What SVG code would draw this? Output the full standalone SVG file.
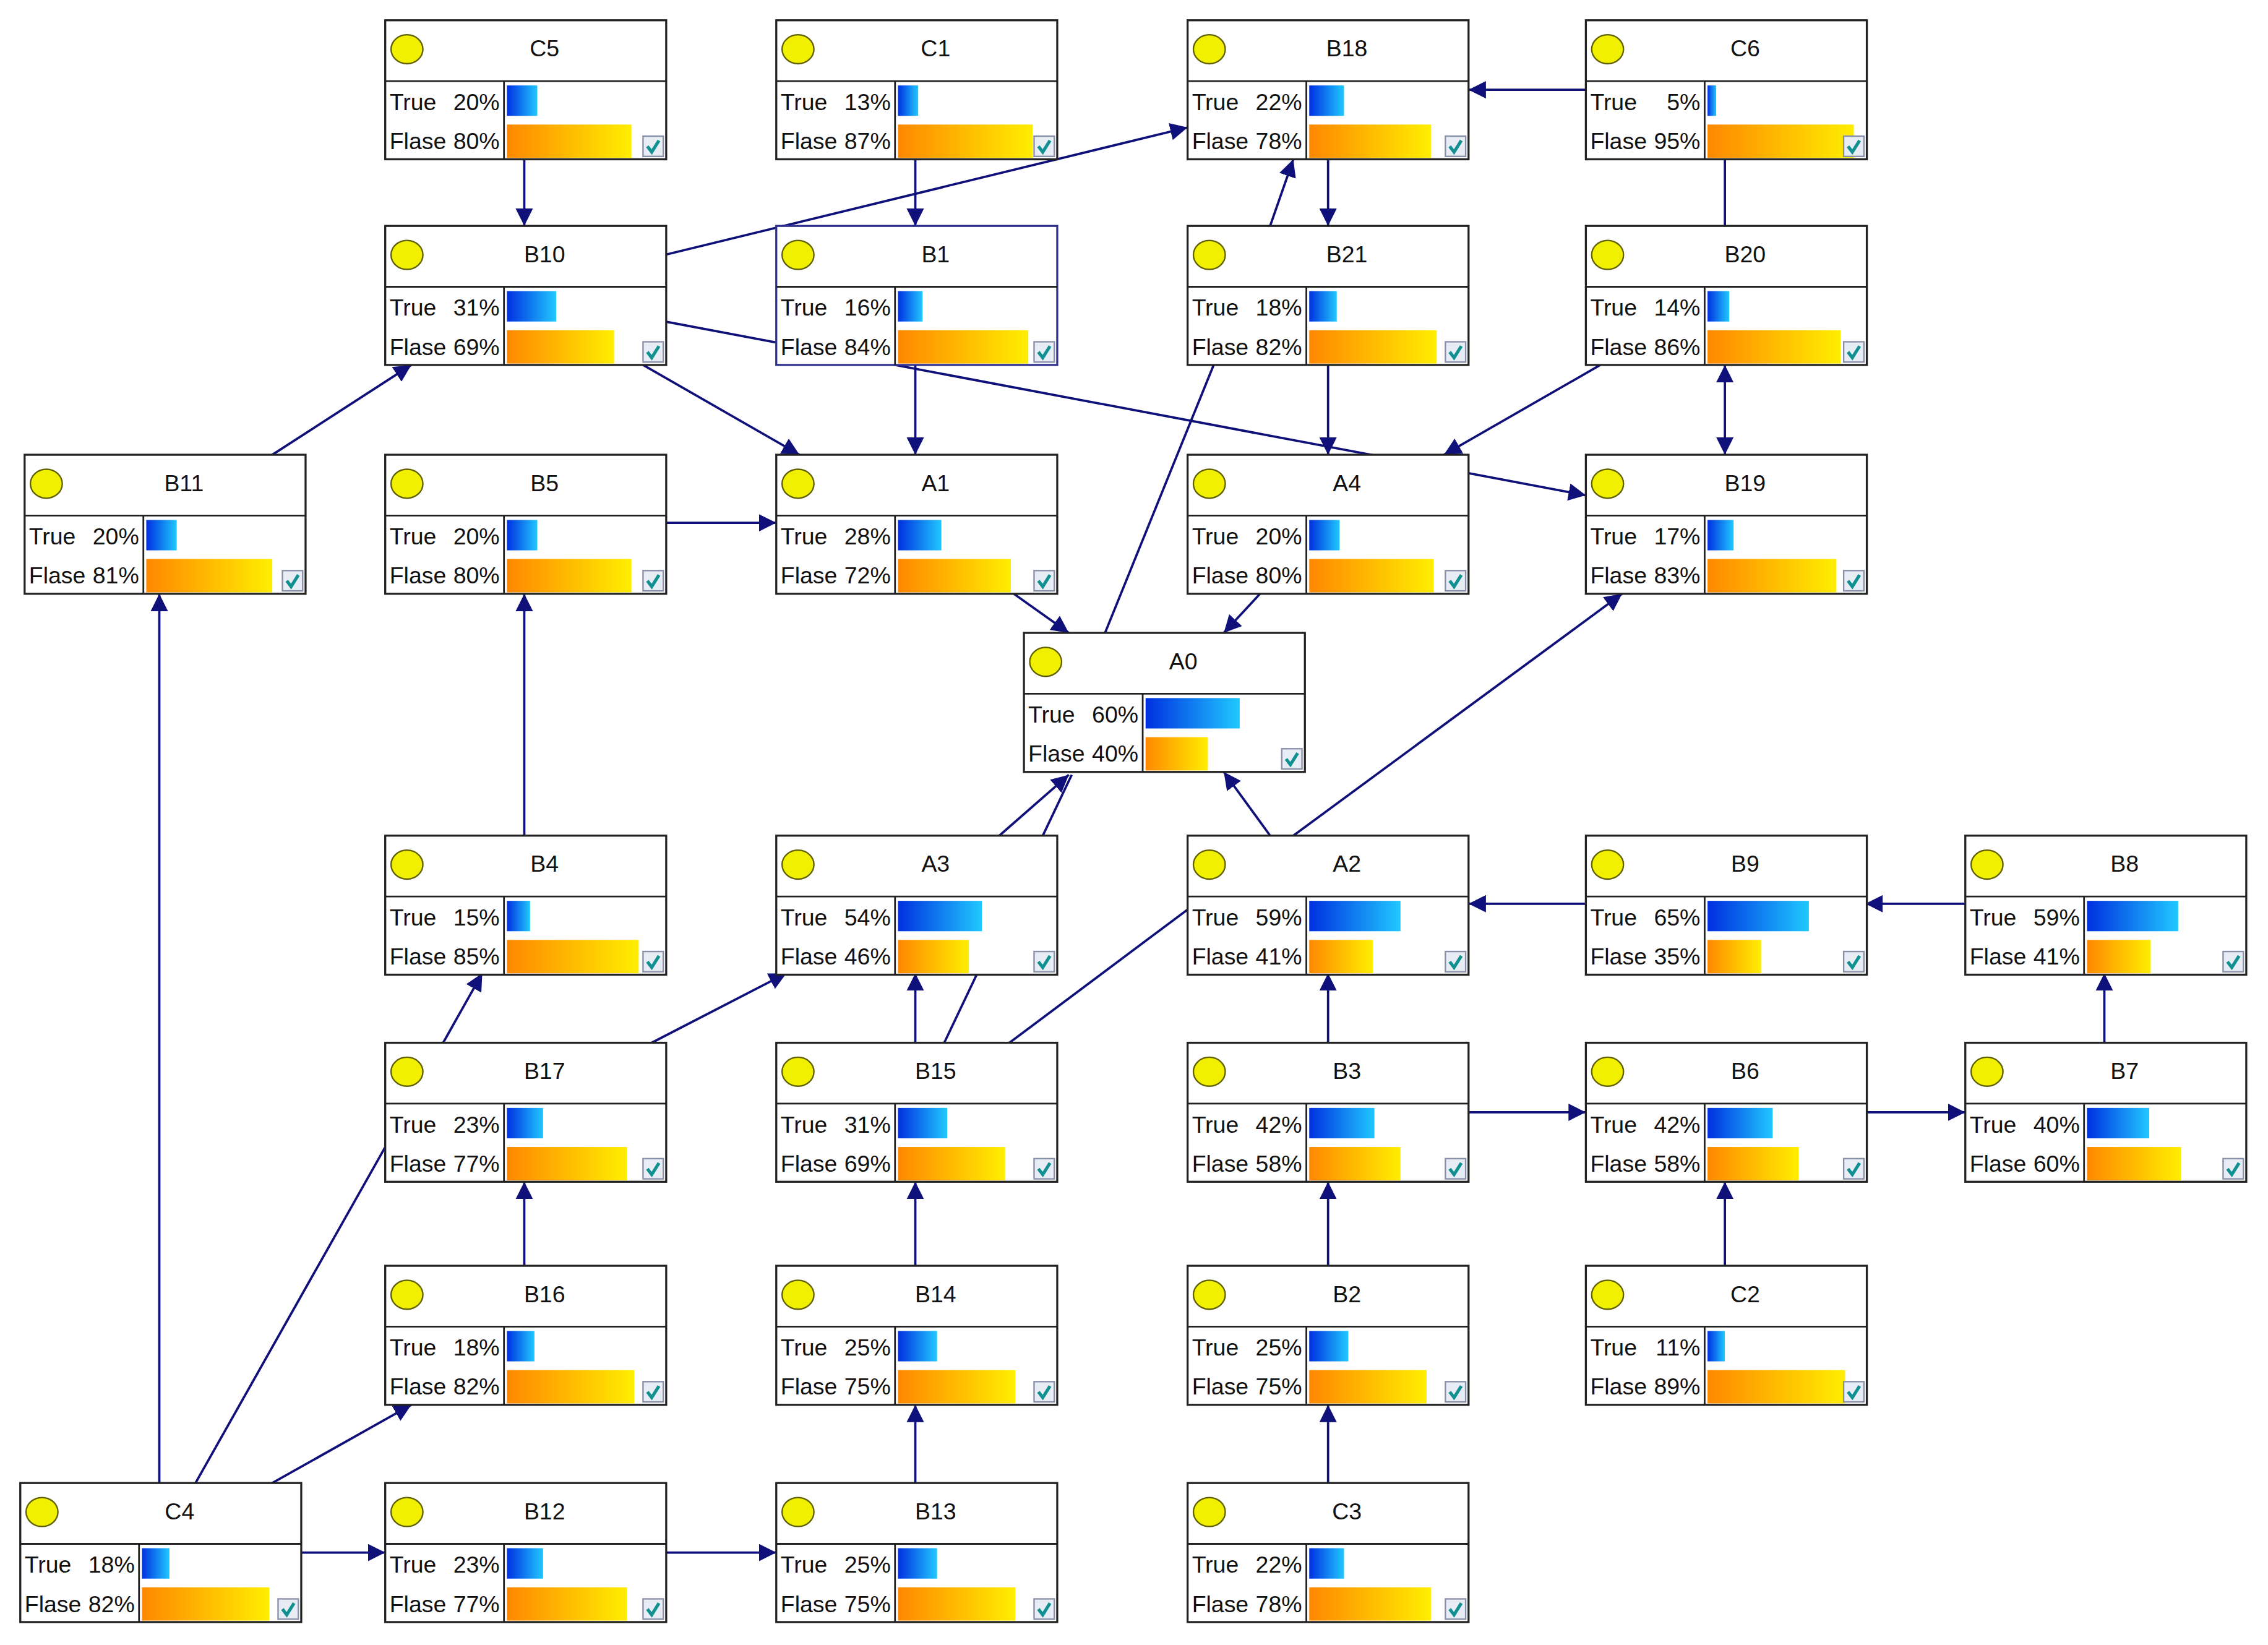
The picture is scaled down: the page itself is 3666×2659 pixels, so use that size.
<svg xmlns="http://www.w3.org/2000/svg" width="3666" height="2659" viewBox="0 0 3666 2659">
<style>
.box{fill:#fff;stroke:#222;stroke-width:1.4}
.ln{stroke:#222;stroke-width:1.2}
.t{font-family:"Liberation Sans",Arial,sans-serif;font-size:16px;fill:#111}
.h{font-family:"Liberation Sans",Arial,sans-serif;font-size:16px;fill:#111;text-anchor:middle}
.p{text-anchor:end}
.e{stroke:#10107a;stroke-width:1.6;fill:none}
.cb{fill:#e8ecf4;stroke:#8890a8;stroke-width:1}
.ck{stroke:#109090;stroke-width:2.2;fill:none}
</style>
<defs>
<linearGradient id="gb" x1="0" y1="0" x2="1" y2="0"><stop offset="0" stop-color="#0030e0"/><stop offset="1" stop-color="#20c8ff"/></linearGradient>
<linearGradient id="go" x1="0" y1="0" x2="1" y2="0"><stop offset="0" stop-color="#ff8800"/><stop offset="1" stop-color="#ffee00"/></linearGradient>
<marker id="a" viewBox="0 0 10 10" refX="10" refY="5" markerWidth="12" markerHeight="12" markerUnits="userSpaceOnUse" orient="auto-start-reverse"><path d="M0,0 L10,5 L0,10 z" fill="#10107a"/></marker>
</defs>
<g transform="scale(2.341)">
<g id="connectors">
<line class="e" x1="362" y1="110" x2="362" y2="156" marker-end="url(#a)"/>
<line class="e" x1="632" y1="110" x2="632" y2="156" marker-end="url(#a)"/>
<line class="e" x1="459" y1="176" x2="820" y2="88" marker-end="url(#a)"/>
<line class="e" x1="1095" y1="62" x2="1014" y2="62" marker-end="url(#a)"/>
<line class="e" x1="1191" y1="110" x2="1191" y2="156"/>
<line class="e" x1="917" y1="110" x2="917" y2="156" marker-end="url(#a)"/>
<line class="e" x1="877" y1="156" x2="893" y2="110" marker-end="url(#a)"/>
<line class="e" x1="444" y1="252" x2="552" y2="314" marker-end="url(#a)"/>
<line class="e" x1="459" y1="222" x2="1095" y2="342" marker-end="url(#a)"/>
<line class="e" x1="632" y1="252" x2="632" y2="314" marker-end="url(#a)"/>
<line class="e" x1="188" y1="314" x2="284" y2="252" marker-end="url(#a)"/>
<line class="e" x1="459" y1="361" x2="536" y2="361" marker-end="url(#a)"/>
<line class="e" x1="838" y1="252" x2="763" y2="437"/>
<line class="e" x1="1105" y1="252" x2="997" y2="314" marker-end="url(#a)"/>
<line class="e" x1="917" y1="252" x2="917" y2="314" marker-end="url(#a)"/>
<line class="e" x1="1191" y1="252" x2="1191" y2="314" marker-start="url(#a)" marker-end="url(#a)"/>
<line class="e" x1="700" y1="410" x2="738" y2="437" marker-end="url(#a)"/>
<line class="e" x1="870" y1="410" x2="845" y2="437" marker-end="url(#a)"/>
<line class="e" x1="893" y1="577" x2="1120" y2="410" marker-end="url(#a)"/>
<line class="e" x1="877" y1="577" x2="845" y2="533" marker-end="url(#a)"/>
<line class="e" x1="690" y1="577" x2="738" y2="535" marker-end="url(#a)"/>
<line class="e" x1="652" y1="720" x2="740" y2="535"/>
<line class="e" x1="1095" y1="624" x2="1014" y2="624" marker-end="url(#a)"/>
<line class="e" x1="1357" y1="624" x2="1288" y2="624" marker-end="url(#a)"/>
<line class="e" x1="362" y1="577" x2="362" y2="410" marker-end="url(#a)"/>
<line class="e" x1="306" y1="720" x2="333" y2="672" marker-end="url(#a)"/>
<line class="e" x1="450" y1="720" x2="543" y2="672" marker-end="url(#a)"/>
<line class="e" x1="632" y1="720" x2="632" y2="672" marker-end="url(#a)"/>
<line class="e" x1="697" y1="720" x2="820" y2="628"/>
<line class="e" x1="917" y1="720" x2="917" y2="672" marker-end="url(#a)"/>
<line class="e" x1="1014" y1="768" x2="1095" y2="768" marker-end="url(#a)"/>
<line class="e" x1="1288" y1="768" x2="1357" y2="768" marker-end="url(#a)"/>
<line class="e" x1="1453" y1="720" x2="1453" y2="672" marker-end="url(#a)"/>
<line class="e" x1="110" y1="1024" x2="110" y2="410" marker-end="url(#a)"/>
<line class="e" x1="135" y1="1024" x2="266" y2="792"/>
<line class="e" x1="362" y1="874" x2="362" y2="816" marker-end="url(#a)"/>
<line class="e" x1="632" y1="874" x2="632" y2="816" marker-end="url(#a)"/>
<line class="e" x1="917" y1="874" x2="917" y2="816" marker-end="url(#a)"/>
<line class="e" x1="1191" y1="874" x2="1191" y2="816" marker-end="url(#a)"/>
<line class="e" x1="188" y1="1024" x2="284" y2="970" marker-end="url(#a)"/>
<line class="e" x1="207" y1="1072" x2="266" y2="1072" marker-end="url(#a)"/>
<line class="e" x1="459" y1="1072" x2="536" y2="1072" marker-end="url(#a)"/>
<line class="e" x1="632" y1="1024" x2="632" y2="970" marker-end="url(#a)"/>
<line class="e" x1="917" y1="1024" x2="917" y2="970" marker-end="url(#a)"/>
</g>
<g id="C5" transform="translate(266,14)"><rect class="box" width="194" height="96"/><line class="ln" x1="0" y1="42" x2="194" y2="42"/><line class="ln" x1="82" y1="42" x2="82" y2="96"/><ellipse cx="15" cy="20" rx="11" ry="10" fill="#f0f000" stroke="#606000"/><text class="h" x="110" y="25">C5</text><text class="t" x="3" y="62">True</text><text class="t p" x="79" y="62">20%</text><text class="t" x="3" y="89">Flase</text><text class="t p" x="79" y="89">80%</text><rect x="84" y="45" width="21" height="21" fill="url(#gb)"/><rect x="84" y="72" width="86" height="23" fill="url(#go)"/><rect class="cb" x="178" y="80" width="14" height="14"/><path class="ck" d="M181,87 L184,91 L189,83"/></g>
<g id="C1" transform="translate(536,14)"><rect class="box" width="194" height="96"/><line class="ln" x1="0" y1="42" x2="194" y2="42"/><line class="ln" x1="82" y1="42" x2="82" y2="96"/><ellipse cx="15" cy="20" rx="11" ry="10" fill="#f0f000" stroke="#606000"/><text class="h" x="110" y="25">C1</text><text class="t" x="3" y="62">True</text><text class="t p" x="79" y="62">13%</text><text class="t" x="3" y="89">Flase</text><text class="t p" x="79" y="89">87%</text><rect x="84" y="45" width="14" height="21" fill="url(#gb)"/><rect x="84" y="72" width="93" height="23" fill="url(#go)"/><rect class="cb" x="178" y="80" width="14" height="14"/><path class="ck" d="M181,87 L184,91 L189,83"/></g>
<g id="B18" transform="translate(820,14)"><rect class="box" width="194" height="96"/><line class="ln" x1="0" y1="42" x2="194" y2="42"/><line class="ln" x1="82" y1="42" x2="82" y2="96"/><ellipse cx="15" cy="20" rx="11" ry="10" fill="#f0f000" stroke="#606000"/><text class="h" x="110" y="25">B18</text><text class="t" x="3" y="62">True</text><text class="t p" x="79" y="62">22%</text><text class="t" x="3" y="89">Flase</text><text class="t p" x="79" y="89">78%</text><rect x="84" y="45" width="24" height="21" fill="url(#gb)"/><rect x="84" y="72" width="84" height="23" fill="url(#go)"/><rect class="cb" x="178" y="80" width="14" height="14"/><path class="ck" d="M181,87 L184,91 L189,83"/></g>
<g id="C6" transform="translate(1095,14)"><rect class="box" width="194" height="96"/><line class="ln" x1="0" y1="42" x2="194" y2="42"/><line class="ln" x1="82" y1="42" x2="82" y2="96"/><ellipse cx="15" cy="20" rx="11" ry="10" fill="#f0f000" stroke="#606000"/><text class="h" x="110" y="25">C6</text><text class="t" x="3" y="62">True</text><text class="t p" x="79" y="62">5%</text><text class="t" x="3" y="89">Flase</text><text class="t p" x="79" y="89">95%</text><rect x="84" y="45" width="6" height="21" fill="url(#gb)"/><rect x="84" y="72" width="101" height="23" fill="url(#go)"/><rect class="cb" x="178" y="80" width="14" height="14"/><path class="ck" d="M181,87 L184,91 L189,83"/></g>
<g id="B10" transform="translate(266,156)"><rect class="box" width="194" height="96"/><line class="ln" x1="0" y1="42" x2="194" y2="42"/><line class="ln" x1="82" y1="42" x2="82" y2="96"/><ellipse cx="15" cy="20" rx="11" ry="10" fill="#f0f000" stroke="#606000"/><text class="h" x="110" y="25">B10</text><text class="t" x="3" y="62">True</text><text class="t p" x="79" y="62">31%</text><text class="t" x="3" y="89">Flase</text><text class="t p" x="79" y="89">69%</text><rect x="84" y="45" width="34" height="21" fill="url(#gb)"/><rect x="84" y="72" width="74" height="23" fill="url(#go)"/><rect class="cb" x="178" y="80" width="14" height="14"/><path class="ck" d="M181,87 L184,91 L189,83"/></g>
<g id="B1" transform="translate(536,156)"><rect class="box" width="194" height="96" style="stroke:#303090"/><line class="ln" x1="0" y1="42" x2="194" y2="42"/><line class="ln" x1="82" y1="42" x2="82" y2="96"/><ellipse cx="15" cy="20" rx="11" ry="10" fill="#f0f000" stroke="#606000"/><text class="h" x="110" y="25">B1</text><text class="t" x="3" y="62">True</text><text class="t p" x="79" y="62">16%</text><text class="t" x="3" y="89">Flase</text><text class="t p" x="79" y="89">84%</text><rect x="84" y="45" width="17" height="21" fill="url(#gb)"/><rect x="84" y="72" width="90" height="23" fill="url(#go)"/><rect class="cb" x="178" y="80" width="14" height="14"/><path class="ck" d="M181,87 L184,91 L189,83"/></g>
<g id="B21" transform="translate(820,156)"><rect class="box" width="194" height="96"/><line class="ln" x1="0" y1="42" x2="194" y2="42"/><line class="ln" x1="82" y1="42" x2="82" y2="96"/><ellipse cx="15" cy="20" rx="11" ry="10" fill="#f0f000" stroke="#606000"/><text class="h" x="110" y="25">B21</text><text class="t" x="3" y="62">True</text><text class="t p" x="79" y="62">18%</text><text class="t" x="3" y="89">Flase</text><text class="t p" x="79" y="89">82%</text><rect x="84" y="45" width="19" height="21" fill="url(#gb)"/><rect x="84" y="72" width="88" height="23" fill="url(#go)"/><rect class="cb" x="178" y="80" width="14" height="14"/><path class="ck" d="M181,87 L184,91 L189,83"/></g>
<g id="B20" transform="translate(1095,156)"><rect class="box" width="194" height="96"/><line class="ln" x1="0" y1="42" x2="194" y2="42"/><line class="ln" x1="82" y1="42" x2="82" y2="96"/><ellipse cx="15" cy="20" rx="11" ry="10" fill="#f0f000" stroke="#606000"/><text class="h" x="110" y="25">B20</text><text class="t" x="3" y="62">True</text><text class="t p" x="79" y="62">14%</text><text class="t" x="3" y="89">Flase</text><text class="t p" x="79" y="89">86%</text><rect x="84" y="45" width="15" height="21" fill="url(#gb)"/><rect x="84" y="72" width="92" height="23" fill="url(#go)"/><rect class="cb" x="178" y="80" width="14" height="14"/><path class="ck" d="M181,87 L184,91 L189,83"/></g>
<g id="B11" transform="translate(17,314)"><rect class="box" width="194" height="96"/><line class="ln" x1="0" y1="42" x2="194" y2="42"/><line class="ln" x1="82" y1="42" x2="82" y2="96"/><ellipse cx="15" cy="20" rx="11" ry="10" fill="#f0f000" stroke="#606000"/><text class="h" x="110" y="25">B11</text><text class="t" x="3" y="62">True</text><text class="t p" x="79" y="62">20%</text><text class="t" x="3" y="89">Flase</text><text class="t p" x="79" y="89">81%</text><rect x="84" y="45" width="21" height="21" fill="url(#gb)"/><rect x="84" y="72" width="87" height="23" fill="url(#go)"/><rect class="cb" x="178" y="80" width="14" height="14"/><path class="ck" d="M181,87 L184,91 L189,83"/></g>
<g id="B5" transform="translate(266,314)"><rect class="box" width="194" height="96"/><line class="ln" x1="0" y1="42" x2="194" y2="42"/><line class="ln" x1="82" y1="42" x2="82" y2="96"/><ellipse cx="15" cy="20" rx="11" ry="10" fill="#f0f000" stroke="#606000"/><text class="h" x="110" y="25">B5</text><text class="t" x="3" y="62">True</text><text class="t p" x="79" y="62">20%</text><text class="t" x="3" y="89">Flase</text><text class="t p" x="79" y="89">80%</text><rect x="84" y="45" width="21" height="21" fill="url(#gb)"/><rect x="84" y="72" width="86" height="23" fill="url(#go)"/><rect class="cb" x="178" y="80" width="14" height="14"/><path class="ck" d="M181,87 L184,91 L189,83"/></g>
<g id="A1" transform="translate(536,314)"><rect class="box" width="194" height="96"/><line class="ln" x1="0" y1="42" x2="194" y2="42"/><line class="ln" x1="82" y1="42" x2="82" y2="96"/><ellipse cx="15" cy="20" rx="11" ry="10" fill="#f0f000" stroke="#606000"/><text class="h" x="110" y="25">A1</text><text class="t" x="3" y="62">True</text><text class="t p" x="79" y="62">28%</text><text class="t" x="3" y="89">Flase</text><text class="t p" x="79" y="89">72%</text><rect x="84" y="45" width="30" height="21" fill="url(#gb)"/><rect x="84" y="72" width="78" height="23" fill="url(#go)"/><rect class="cb" x="178" y="80" width="14" height="14"/><path class="ck" d="M181,87 L184,91 L189,83"/></g>
<g id="A4" transform="translate(820,314)"><rect class="box" width="194" height="96"/><line class="ln" x1="0" y1="42" x2="194" y2="42"/><line class="ln" x1="82" y1="42" x2="82" y2="96"/><ellipse cx="15" cy="20" rx="11" ry="10" fill="#f0f000" stroke="#606000"/><text class="h" x="110" y="25">A4</text><text class="t" x="3" y="62">True</text><text class="t p" x="79" y="62">20%</text><text class="t" x="3" y="89">Flase</text><text class="t p" x="79" y="89">80%</text><rect x="84" y="45" width="21" height="21" fill="url(#gb)"/><rect x="84" y="72" width="86" height="23" fill="url(#go)"/><rect class="cb" x="178" y="80" width="14" height="14"/><path class="ck" d="M181,87 L184,91 L189,83"/></g>
<g id="B19" transform="translate(1095,314)"><rect class="box" width="194" height="96"/><line class="ln" x1="0" y1="42" x2="194" y2="42"/><line class="ln" x1="82" y1="42" x2="82" y2="96"/><ellipse cx="15" cy="20" rx="11" ry="10" fill="#f0f000" stroke="#606000"/><text class="h" x="110" y="25">B19</text><text class="t" x="3" y="62">True</text><text class="t p" x="79" y="62">17%</text><text class="t" x="3" y="89">Flase</text><text class="t p" x="79" y="89">83%</text><rect x="84" y="45" width="18" height="21" fill="url(#gb)"/><rect x="84" y="72" width="89" height="23" fill="url(#go)"/><rect class="cb" x="178" y="80" width="14" height="14"/><path class="ck" d="M181,87 L184,91 L189,83"/></g>
<g id="A0" transform="translate(707,437)"><rect class="box" width="194" height="96"/><line class="ln" x1="0" y1="42" x2="194" y2="42"/><line class="ln" x1="82" y1="42" x2="82" y2="96"/><ellipse cx="15" cy="20" rx="11" ry="10" fill="#f0f000" stroke="#606000"/><text class="h" x="110" y="25">A0</text><text class="t" x="3" y="62">True</text><text class="t p" x="79" y="62">60%</text><text class="t" x="3" y="89">Flase</text><text class="t p" x="79" y="89">40%</text><rect x="84" y="45" width="65" height="21" fill="url(#gb)"/><rect x="84" y="72" width="43" height="23" fill="url(#go)"/><rect class="cb" x="178" y="80" width="14" height="14"/><path class="ck" d="M181,87 L184,91 L189,83"/></g>
<g id="B4" transform="translate(266,577)"><rect class="box" width="194" height="96"/><line class="ln" x1="0" y1="42" x2="194" y2="42"/><line class="ln" x1="82" y1="42" x2="82" y2="96"/><ellipse cx="15" cy="20" rx="11" ry="10" fill="#f0f000" stroke="#606000"/><text class="h" x="110" y="25">B4</text><text class="t" x="3" y="62">True</text><text class="t p" x="79" y="62">15%</text><text class="t" x="3" y="89">Flase</text><text class="t p" x="79" y="89">85%</text><rect x="84" y="45" width="16" height="21" fill="url(#gb)"/><rect x="84" y="72" width="91" height="23" fill="url(#go)"/><rect class="cb" x="178" y="80" width="14" height="14"/><path class="ck" d="M181,87 L184,91 L189,83"/></g>
<g id="A3" transform="translate(536,577)"><rect class="box" width="194" height="96"/><line class="ln" x1="0" y1="42" x2="194" y2="42"/><line class="ln" x1="82" y1="42" x2="82" y2="96"/><ellipse cx="15" cy="20" rx="11" ry="10" fill="#f0f000" stroke="#606000"/><text class="h" x="110" y="25">A3</text><text class="t" x="3" y="62">True</text><text class="t p" x="79" y="62">54%</text><text class="t" x="3" y="89">Flase</text><text class="t p" x="79" y="89">46%</text><rect x="84" y="45" width="58" height="21" fill="url(#gb)"/><rect x="84" y="72" width="49" height="23" fill="url(#go)"/><rect class="cb" x="178" y="80" width="14" height="14"/><path class="ck" d="M181,87 L184,91 L189,83"/></g>
<g id="A2" transform="translate(820,577)"><rect class="box" width="194" height="96"/><line class="ln" x1="0" y1="42" x2="194" y2="42"/><line class="ln" x1="82" y1="42" x2="82" y2="96"/><ellipse cx="15" cy="20" rx="11" ry="10" fill="#f0f000" stroke="#606000"/><text class="h" x="110" y="25">A2</text><text class="t" x="3" y="62">True</text><text class="t p" x="79" y="62">59%</text><text class="t" x="3" y="89">Flase</text><text class="t p" x="79" y="89">41%</text><rect x="84" y="45" width="63" height="21" fill="url(#gb)"/><rect x="84" y="72" width="44" height="23" fill="url(#go)"/><rect class="cb" x="178" y="80" width="14" height="14"/><path class="ck" d="M181,87 L184,91 L189,83"/></g>
<g id="B9" transform="translate(1095,577)"><rect class="box" width="194" height="96"/><line class="ln" x1="0" y1="42" x2="194" y2="42"/><line class="ln" x1="82" y1="42" x2="82" y2="96"/><ellipse cx="15" cy="20" rx="11" ry="10" fill="#f0f000" stroke="#606000"/><text class="h" x="110" y="25">B9</text><text class="t" x="3" y="62">True</text><text class="t p" x="79" y="62">65%</text><text class="t" x="3" y="89">Flase</text><text class="t p" x="79" y="89">35%</text><rect x="84" y="45" width="70" height="21" fill="url(#gb)"/><rect x="84" y="72" width="37" height="23" fill="url(#go)"/><rect class="cb" x="178" y="80" width="14" height="14"/><path class="ck" d="M181,87 L184,91 L189,83"/></g>
<g id="B8" transform="translate(1357,577)"><rect class="box" width="194" height="96"/><line class="ln" x1="0" y1="42" x2="194" y2="42"/><line class="ln" x1="82" y1="42" x2="82" y2="96"/><ellipse cx="15" cy="20" rx="11" ry="10" fill="#f0f000" stroke="#606000"/><text class="h" x="110" y="25">B8</text><text class="t" x="3" y="62">True</text><text class="t p" x="79" y="62">59%</text><text class="t" x="3" y="89">Flase</text><text class="t p" x="79" y="89">41%</text><rect x="84" y="45" width="63" height="21" fill="url(#gb)"/><rect x="84" y="72" width="44" height="23" fill="url(#go)"/><rect class="cb" x="178" y="80" width="14" height="14"/><path class="ck" d="M181,87 L184,91 L189,83"/></g>
<g id="B17" transform="translate(266,720)"><rect class="box" width="194" height="96"/><line class="ln" x1="0" y1="42" x2="194" y2="42"/><line class="ln" x1="82" y1="42" x2="82" y2="96"/><ellipse cx="15" cy="20" rx="11" ry="10" fill="#f0f000" stroke="#606000"/><text class="h" x="110" y="25">B17</text><text class="t" x="3" y="62">True</text><text class="t p" x="79" y="62">23%</text><text class="t" x="3" y="89">Flase</text><text class="t p" x="79" y="89">77%</text><rect x="84" y="45" width="25" height="21" fill="url(#gb)"/><rect x="84" y="72" width="83" height="23" fill="url(#go)"/><rect class="cb" x="178" y="80" width="14" height="14"/><path class="ck" d="M181,87 L184,91 L189,83"/></g>
<g id="B15" transform="translate(536,720)"><rect class="box" width="194" height="96"/><line class="ln" x1="0" y1="42" x2="194" y2="42"/><line class="ln" x1="82" y1="42" x2="82" y2="96"/><ellipse cx="15" cy="20" rx="11" ry="10" fill="#f0f000" stroke="#606000"/><text class="h" x="110" y="25">B15</text><text class="t" x="3" y="62">True</text><text class="t p" x="79" y="62">31%</text><text class="t" x="3" y="89">Flase</text><text class="t p" x="79" y="89">69%</text><rect x="84" y="45" width="34" height="21" fill="url(#gb)"/><rect x="84" y="72" width="74" height="23" fill="url(#go)"/><rect class="cb" x="178" y="80" width="14" height="14"/><path class="ck" d="M181,87 L184,91 L189,83"/></g>
<g id="B3" transform="translate(820,720)"><rect class="box" width="194" height="96"/><line class="ln" x1="0" y1="42" x2="194" y2="42"/><line class="ln" x1="82" y1="42" x2="82" y2="96"/><ellipse cx="15" cy="20" rx="11" ry="10" fill="#f0f000" stroke="#606000"/><text class="h" x="110" y="25">B3</text><text class="t" x="3" y="62">True</text><text class="t p" x="79" y="62">42%</text><text class="t" x="3" y="89">Flase</text><text class="t p" x="79" y="89">58%</text><rect x="84" y="45" width="45" height="21" fill="url(#gb)"/><rect x="84" y="72" width="63" height="23" fill="url(#go)"/><rect class="cb" x="178" y="80" width="14" height="14"/><path class="ck" d="M181,87 L184,91 L189,83"/></g>
<g id="B6" transform="translate(1095,720)"><rect class="box" width="194" height="96"/><line class="ln" x1="0" y1="42" x2="194" y2="42"/><line class="ln" x1="82" y1="42" x2="82" y2="96"/><ellipse cx="15" cy="20" rx="11" ry="10" fill="#f0f000" stroke="#606000"/><text class="h" x="110" y="25">B6</text><text class="t" x="3" y="62">True</text><text class="t p" x="79" y="62">42%</text><text class="t" x="3" y="89">Flase</text><text class="t p" x="79" y="89">58%</text><rect x="84" y="45" width="45" height="21" fill="url(#gb)"/><rect x="84" y="72" width="63" height="23" fill="url(#go)"/><rect class="cb" x="178" y="80" width="14" height="14"/><path class="ck" d="M181,87 L184,91 L189,83"/></g>
<g id="B7" transform="translate(1357,720)"><rect class="box" width="194" height="96"/><line class="ln" x1="0" y1="42" x2="194" y2="42"/><line class="ln" x1="82" y1="42" x2="82" y2="96"/><ellipse cx="15" cy="20" rx="11" ry="10" fill="#f0f000" stroke="#606000"/><text class="h" x="110" y="25">B7</text><text class="t" x="3" y="62">True</text><text class="t p" x="79" y="62">40%</text><text class="t" x="3" y="89">Flase</text><text class="t p" x="79" y="89">60%</text><rect x="84" y="45" width="43" height="21" fill="url(#gb)"/><rect x="84" y="72" width="65" height="23" fill="url(#go)"/><rect class="cb" x="178" y="80" width="14" height="14"/><path class="ck" d="M181,87 L184,91 L189,83"/></g>
<g id="B16" transform="translate(266,874)"><rect class="box" width="194" height="96"/><line class="ln" x1="0" y1="42" x2="194" y2="42"/><line class="ln" x1="82" y1="42" x2="82" y2="96"/><ellipse cx="15" cy="20" rx="11" ry="10" fill="#f0f000" stroke="#606000"/><text class="h" x="110" y="25">B16</text><text class="t" x="3" y="62">True</text><text class="t p" x="79" y="62">18%</text><text class="t" x="3" y="89">Flase</text><text class="t p" x="79" y="89">82%</text><rect x="84" y="45" width="19" height="21" fill="url(#gb)"/><rect x="84" y="72" width="88" height="23" fill="url(#go)"/><rect class="cb" x="178" y="80" width="14" height="14"/><path class="ck" d="M181,87 L184,91 L189,83"/></g>
<g id="B14" transform="translate(536,874)"><rect class="box" width="194" height="96"/><line class="ln" x1="0" y1="42" x2="194" y2="42"/><line class="ln" x1="82" y1="42" x2="82" y2="96"/><ellipse cx="15" cy="20" rx="11" ry="10" fill="#f0f000" stroke="#606000"/><text class="h" x="110" y="25">B14</text><text class="t" x="3" y="62">True</text><text class="t p" x="79" y="62">25%</text><text class="t" x="3" y="89">Flase</text><text class="t p" x="79" y="89">75%</text><rect x="84" y="45" width="27" height="21" fill="url(#gb)"/><rect x="84" y="72" width="81" height="23" fill="url(#go)"/><rect class="cb" x="178" y="80" width="14" height="14"/><path class="ck" d="M181,87 L184,91 L189,83"/></g>
<g id="B2" transform="translate(820,874)"><rect class="box" width="194" height="96"/><line class="ln" x1="0" y1="42" x2="194" y2="42"/><line class="ln" x1="82" y1="42" x2="82" y2="96"/><ellipse cx="15" cy="20" rx="11" ry="10" fill="#f0f000" stroke="#606000"/><text class="h" x="110" y="25">B2</text><text class="t" x="3" y="62">True</text><text class="t p" x="79" y="62">25%</text><text class="t" x="3" y="89">Flase</text><text class="t p" x="79" y="89">75%</text><rect x="84" y="45" width="27" height="21" fill="url(#gb)"/><rect x="84" y="72" width="81" height="23" fill="url(#go)"/><rect class="cb" x="178" y="80" width="14" height="14"/><path class="ck" d="M181,87 L184,91 L189,83"/></g>
<g id="C2" transform="translate(1095,874)"><rect class="box" width="194" height="96"/><line class="ln" x1="0" y1="42" x2="194" y2="42"/><line class="ln" x1="82" y1="42" x2="82" y2="96"/><ellipse cx="15" cy="20" rx="11" ry="10" fill="#f0f000" stroke="#606000"/><text class="h" x="110" y="25">C2</text><text class="t" x="3" y="62">True</text><text class="t p" x="79" y="62">11%</text><text class="t" x="3" y="89">Flase</text><text class="t p" x="79" y="89">89%</text><rect x="84" y="45" width="12" height="21" fill="url(#gb)"/><rect x="84" y="72" width="95" height="23" fill="url(#go)"/><rect class="cb" x="178" y="80" width="14" height="14"/><path class="ck" d="M181,87 L184,91 L189,83"/></g>
<g id="C4" transform="translate(14,1024)"><rect class="box" width="194" height="96"/><line class="ln" x1="0" y1="42" x2="194" y2="42"/><line class="ln" x1="82" y1="42" x2="82" y2="96"/><ellipse cx="15" cy="20" rx="11" ry="10" fill="#f0f000" stroke="#606000"/><text class="h" x="110" y="25">C4</text><text class="t" x="3" y="62">True</text><text class="t p" x="79" y="62">18%</text><text class="t" x="3" y="89">Flase</text><text class="t p" x="79" y="89">82%</text><rect x="84" y="45" width="19" height="21" fill="url(#gb)"/><rect x="84" y="72" width="88" height="23" fill="url(#go)"/><rect class="cb" x="178" y="80" width="14" height="14"/><path class="ck" d="M181,87 L184,91 L189,83"/></g>
<g id="B12" transform="translate(266,1024)"><rect class="box" width="194" height="96"/><line class="ln" x1="0" y1="42" x2="194" y2="42"/><line class="ln" x1="82" y1="42" x2="82" y2="96"/><ellipse cx="15" cy="20" rx="11" ry="10" fill="#f0f000" stroke="#606000"/><text class="h" x="110" y="25">B12</text><text class="t" x="3" y="62">True</text><text class="t p" x="79" y="62">23%</text><text class="t" x="3" y="89">Flase</text><text class="t p" x="79" y="89">77%</text><rect x="84" y="45" width="25" height="21" fill="url(#gb)"/><rect x="84" y="72" width="83" height="23" fill="url(#go)"/><rect class="cb" x="178" y="80" width="14" height="14"/><path class="ck" d="M181,87 L184,91 L189,83"/></g>
<g id="B13" transform="translate(536,1024)"><rect class="box" width="194" height="96"/><line class="ln" x1="0" y1="42" x2="194" y2="42"/><line class="ln" x1="82" y1="42" x2="82" y2="96"/><ellipse cx="15" cy="20" rx="11" ry="10" fill="#f0f000" stroke="#606000"/><text class="h" x="110" y="25">B13</text><text class="t" x="3" y="62">True</text><text class="t p" x="79" y="62">25%</text><text class="t" x="3" y="89">Flase</text><text class="t p" x="79" y="89">75%</text><rect x="84" y="45" width="27" height="21" fill="url(#gb)"/><rect x="84" y="72" width="81" height="23" fill="url(#go)"/><rect class="cb" x="178" y="80" width="14" height="14"/><path class="ck" d="M181,87 L184,91 L189,83"/></g>
<g id="C3" transform="translate(820,1024)"><rect class="box" width="194" height="96"/><line class="ln" x1="0" y1="42" x2="194" y2="42"/><line class="ln" x1="82" y1="42" x2="82" y2="96"/><ellipse cx="15" cy="20" rx="11" ry="10" fill="#f0f000" stroke="#606000"/><text class="h" x="110" y="25">C3</text><text class="t" x="3" y="62">True</text><text class="t p" x="79" y="62">22%</text><text class="t" x="3" y="89">Flase</text><text class="t p" x="79" y="89">78%</text><rect x="84" y="45" width="24" height="21" fill="url(#gb)"/><rect x="84" y="72" width="84" height="23" fill="url(#go)"/><rect class="cb" x="178" y="80" width="14" height="14"/><path class="ck" d="M181,87 L184,91 L189,83"/></g>
</g>
</svg>
